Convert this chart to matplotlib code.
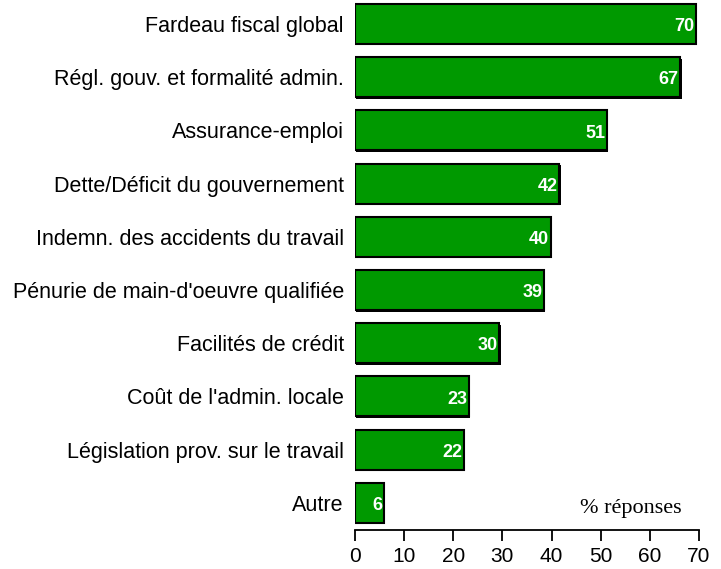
import matplotlib
matplotlib.use("Agg")
import matplotlib.pyplot as plt

categories = ["Fardeau fiscal global", "Régl. gouv. et formalité admin.", "Assurance-emploi",
              "Dette/Déficit du gouvernement", "Indemn. des accidents du travail",
              "Pénurie de main-d'oeuvre qualifiée", "Facilités de crédit",
              "Coût de l'admin. locale", "Législation prov. sur le travail", "Autre"]
values = [69.4, 66.2, 51.3, 41.6, 39.8, 38.5, 29.4, 23.2, 22.1, 5.8]
value_labels = ["70", "67", "51", "42", "40", "39", "30", "23", "22", "6"]
xticks = [0, 10, 20, 30, 40, 50, 60, 70]

plt.rcParams['font.family'] = ['Liberation Sans', 'DejaVu Sans']

fig = plt.figure(figsize=(7.21, 5.69), dpi=100)
ax = fig.add_axes([355/721, 1 - 530/569, (699-355)/721, 530/569])

y = list(range(len(categories)))
# shadow
ax.barh([v + 0.03 for v in y], values, left=0.25, height=0.75, color='black', zorder=1)
ax.barh(y, values, height=0.75, color='#009900', edgecolor='black', linewidth=1.5, zorder=2)

for yi, v, lab in zip(y, values, value_labels):
    ax.text(v - 0.3, yi + 0.05, lab, ha='right', va='center', color='white',
            fontweight='bold', fontsize=13, zorder=3)

ax.set_ylim(len(categories) - 0.49, -0.45)
ax.set_xlim(0, 70)
ax.set_yticks(y)
ax.set_yticklabels(categories, fontsize=15.5)
ax.tick_params(axis='y', length=0, pad=8)
ax.set_xticks(xticks)
ax.set_xticklabels([str(t) for t in xticks], fontsize=15)
ax.tick_params(axis='x', length=8, width=1.3, pad=4, direction='out')
for s in ['top', 'right', 'left']:
    ax.spines[s].set_visible(False)
ax.spines['bottom'].set_linewidth(1.3)

ax.text(66.5, 9.1, "% réponses", ha='right', va='center', fontsize=16,
        family=['Liberation Serif', 'DejaVu Serif'])

fig.savefig("out.png", dpi=100)
